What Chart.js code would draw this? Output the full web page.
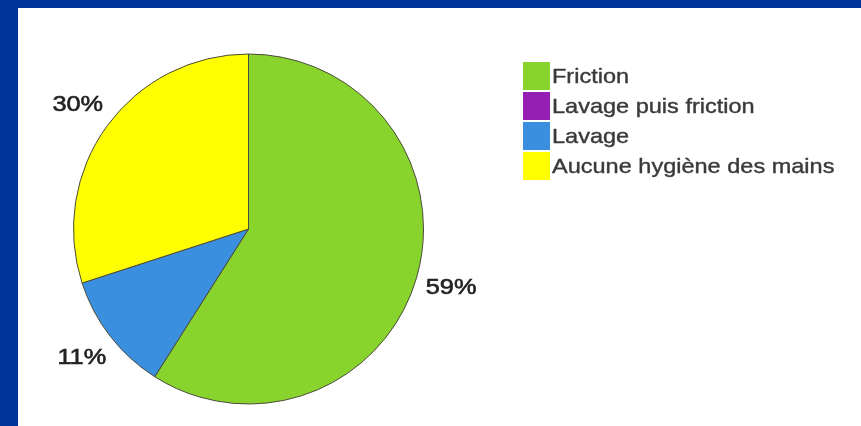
<!DOCTYPE html>
<html>
<head>
<meta charset="utf-8">
<script src="https://cdn.jsdelivr.net/npm/chart.js@4"></script>
<style>
    html, body { margin: 0; padding: 0; }
    body { width: 861px; height: 426px; background: #00339a; position: relative; overflow: hidden; }
    #panel { position: absolute; left: 18px; top: 8px; width: 843px; height: 418px; background: #ffffff; }
    canvas { display: block; }
</style>
</head>
<body>
<div id="panel"><canvas id="handHygieneChart" width="843" height="418"></canvas></div>
<script>
const categories = ['Friction', 'Lavage puis friction', 'Lavage', 'Aucune hygiène des mains'];
const percentValues = [59, 0, 11, 30];
const sliceColors = ['#88d42c', '#951fb3', '#3b8fdf', '#ffff00'];

// libellés % placés à l'extérieur des parts
const outerLabels = {
    id: 'outerLabels',
    afterDatasetsDraw(chart) {
        const ctx = chart.ctx;
        const meta = chart.getDatasetMeta(0);
        ctx.save();
        ctx.fillStyle = '#222222';
        ctx.strokeStyle = '#222222';
        ctx.lineWidth = 0.6;
        ctx.font = '22px "Liberation Sans", Arial, sans-serif';
        ctx.textAlign = 'center';
        ctx.textBaseline = 'middle';
        meta.data.forEach((arc, i) => {
            const value = percentValues[i];
            if (!value) return;
            const mid = (arc.startAngle + arc.endAngle) / 2;
            const r = arc.outerRadius + 36;
            ctx.save();
            ctx.translate(arc.x + Math.cos(mid) * r, arc.y + Math.sin(mid) * r);
            ctx.scale(1.15, 1);
            ctx.fillText(value + '%', 0, 0);
            ctx.strokeText(value + '%', 0, 0);
            ctx.restore();
        });
        ctx.restore();
    }
};

// légende dessinée à droite, cases collées
const sideLegend = {
    id: 'sideLegend',
    afterDraw(chart) {
        const ctx = chart.ctx;
        ctx.save();
        ctx.font = '21px "Liberation Sans", Arial, sans-serif';
        ctx.textAlign = 'left';
        ctx.textBaseline = 'alphabetic';
        ctx.lineWidth = 0.4;
        categories.forEach((label, i) => {
            const top = 54 + i * 30;
            ctx.fillStyle = sliceColors[i];
            ctx.fillRect(505, top, 27, 28);
            ctx.fillStyle = '#3a3a3a';
            ctx.strokeStyle = '#3a3a3a';
            ctx.save();
            ctx.translate(534, top + 21);
            ctx.scale(1.12, 1);
            ctx.fillText(label, 0, 0);
            ctx.strokeText(label, 0, 0);
            ctx.restore();
        });
        ctx.restore();
    }
};

new Chart(document.getElementById('handHygieneChart'), {
    type: 'pie',
    data: {
        labels: categories,
        datasets: [{
            data: percentValues,
            backgroundColor: sliceColors,
            borderColor: '#4a4a3a',
            borderWidth: 1,
            hoverOffset: 0
        }]
    },
    options: {
        responsive: false,
        animation: false,
        layout: {
            padding: { left: 55, top: 45, right: 437, bottom: 21 }
        },
        plugins: {
            legend: { display: false },
            tooltip: { enabled: false }
        }
    },
    plugins: [outerLabels, sideLegend]
});
</script>
</body>
</html>
